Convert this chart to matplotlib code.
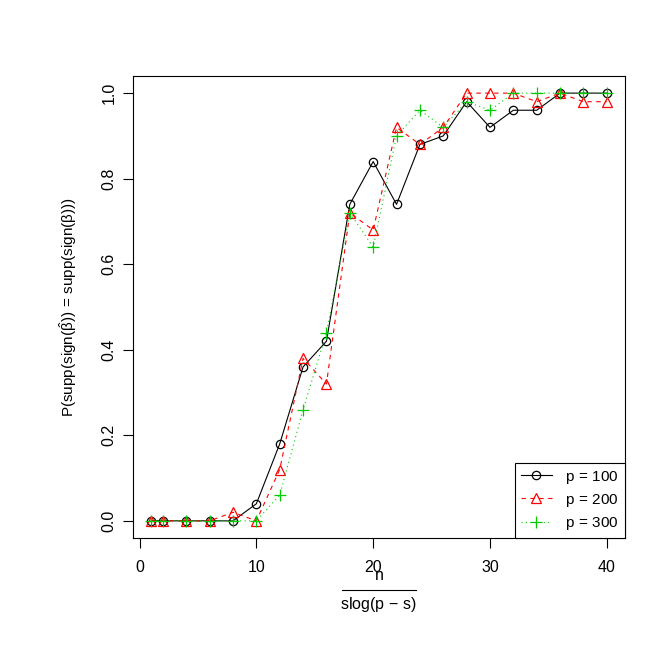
import matplotlib
matplotlib.use('Agg')
import matplotlib.pyplot as plt
from matplotlib.lines import Line2D

# ratio n / (s log(p - s))
ratio = [1, 2, 4, 6, 8, 10, 12, 14, 16, 18, 20, 22, 24, 26, 28, 30, 32, 34, 36, 38, 40]

# recovery probability for each p
prob_p100 = [0, 0, 0, 0, 0, 0.04, 0.18, 0.36, 0.42, 0.74, 0.84, 0.74, 0.88, 0.90,
             0.98, 0.92, 0.96, 0.96, 1.0, 1.0, 1.0]
prob_p200 = [0, 0, 0, 0, 0.02, 0, 0.12, 0.38, 0.32, 0.72, 0.68, 0.92, 0.88, 0.92,
             1.0, 1.0, 1.0, 0.98, 1.0, 0.98, 0.98]
prob_p300 = [0, 0, 0, 0, 0, 0, 0.06, 0.26, 0.44, 0.72, 0.64, 0.90, 0.96, 0.92,
             0.98, 0.96, 1.0, 1.0, 1.0, 1.0, 1.0]

legend_labels = [r'p$\,=\,$100', r'p$\,=\,$200', r'p$\,=\,$300']
x_ticks = [0, 10, 20, 30, 40]
y_ticks = [0.0, 0.2, 0.4, 0.6, 0.8, 1.0]

GREEN = '#00CD00'
plt.rcParams['font.family'] = ['Liberation Sans', 'DejaVu Sans']
plt.rcParams['mathtext.fontset'] = 'custom'
plt.rcParams['mathtext.rm'] = 'Liberation Sans'
plt.rcParams['mathtext.it'] = 'Liberation Sans'
plt.rcParams['font.size'] = 11

fig = plt.figure(figsize=(6.64, 6.64), dpi=100)
ax = fig.add_axes([0.2003, 0.1898, 0.741, 0.6957])

styles = [
    dict(color='black', linestyle='-', marker='o', markersize=6, markerfacecolor='none'),
    dict(color='red', linestyle=(0, (4, 4)), marker='^', markersize=7.4, markerfacecolor='none'),
    dict(color=GREEN, linestyle=(0, (1, 3)), marker='+', markersize=8.5),
]
series = [prob_p100, prob_p200, prob_p300]
for vals, st in zip(series, styles):
    ax.plot(ratio, vals, lw=0.8, markeredgewidth=0.9, **st)

ax.set_xlim(-0.56, 41.56)
ax.set_ylim(-0.04, 1.04)
ax.set_xticks(x_ticks)
ax.set_yticks(y_ticks)
ax.set_yticklabels([f'{v:.1f}' for v in y_ticks], rotation=90, va='center')
ax.tick_params(direction='out', length=7, width=0.8, labelsize=11.5)
ax.tick_params(axis='x', pad=8.5)
ax.tick_params(axis='y', pad=5)
for s in ax.spines.values():
    s.set_linewidth(0.8)

ax.set_ylabel(r'P(supp(sign($\hat{\mathrm{\beta}}$))$\,=\,$supp(sign($\mathrm{\beta}$)))',
              fontsize=11, labelpad=16)

# x label drawn as a fraction n / slog(p - s), like R's plotmath frac()
fig.text(0.5708, 0.134, 'n', ha='center', va='center', fontsize=11.5)
fig.add_artist(Line2D([0.515, 0.6265], [0.1114, 0.1114], color='black', lw=0.8))
fig.text(0.5708, 0.0889, r'slog(p$\,-\,$s)', ha='center', va='center', fontsize=11.5)

handles = [Line2D([], [], lw=0.8, markeredgewidth=0.9, **st) for st in styles]
leg = ax.legend(handles, legend_labels, loc='lower right', borderaxespad=0,
                fancybox=False, edgecolor='black', framealpha=1, fontsize=11,
                handlelength=2.0, handletextpad=0.9, borderpad=0.4, labelspacing=0.4)
leg.get_frame().set_linewidth(0.8)

fig.savefig('out.png', dpi=100)
